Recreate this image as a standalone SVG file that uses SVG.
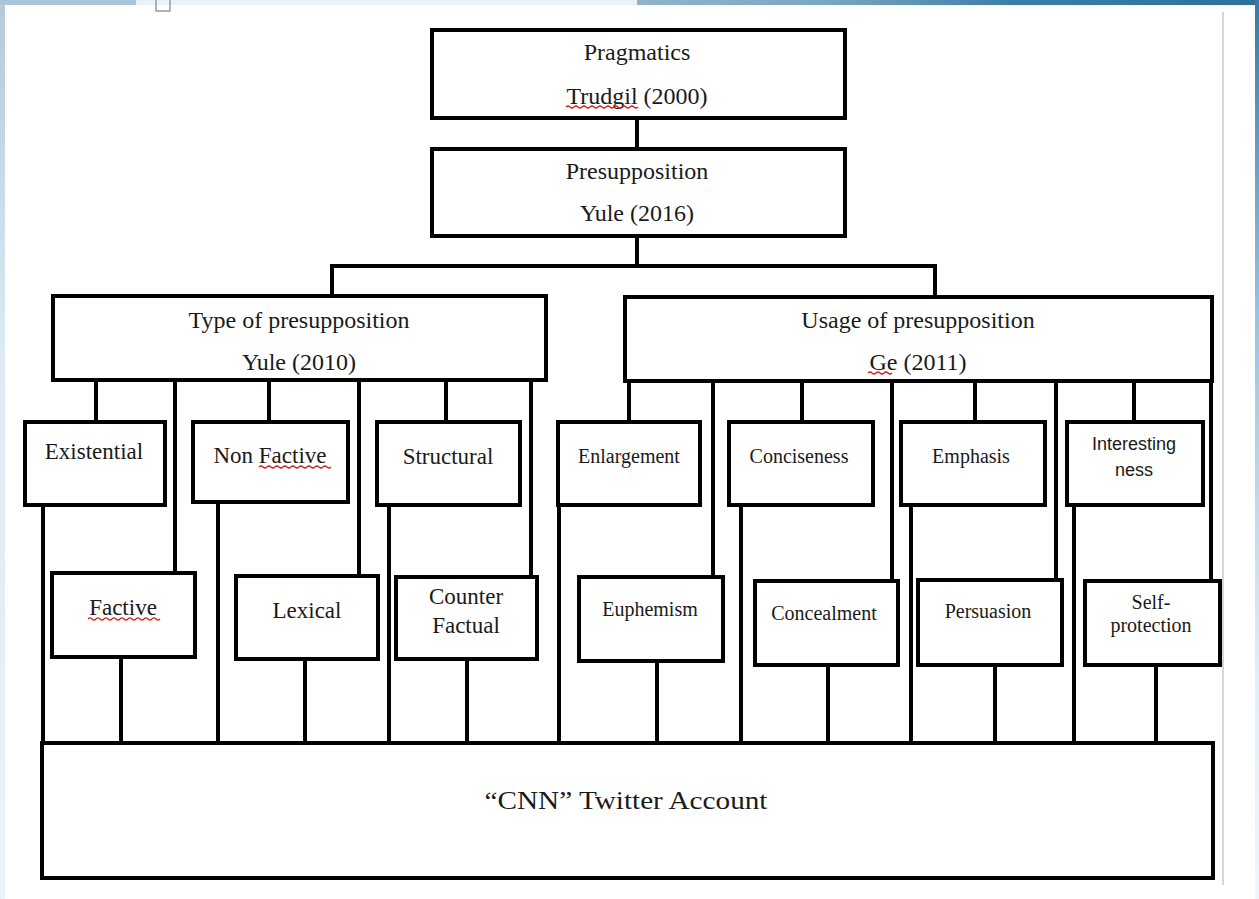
<svg xmlns="http://www.w3.org/2000/svg" width="1259" height="899" viewBox="0 0 1259 899">
<defs>
<linearGradient id="topR" x1="0" y1="0" x2="1" y2="0"><stop offset="0" stop-color="#8fb4cc"/><stop offset="0.3" stop-color="#7aa7c3"/><stop offset="0.6" stop-color="#3e7ea6"/><stop offset="1" stop-color="#2f6f98"/></linearGradient>
<linearGradient id="rightS" x1="0" y1="0" x2="0" y2="1"><stop offset="0" stop-color="#3a7aa2"/><stop offset="0.35" stop-color="#9cc2dc"/><stop offset="0.75" stop-color="#e0eef8"/><stop offset="1" stop-color="#eef6fc"/></linearGradient>
<linearGradient id="leftS" x1="0" y1="0" x2="0" y2="1"><stop offset="0" stop-color="#b3cadb"/><stop offset="0.4" stop-color="#dcebf6"/><stop offset="1" stop-color="#e9f4fc"/></linearGradient>
</defs>
<style>
.box{fill:#ffffff;stroke:#000000;stroke-width:4}
.ln{stroke:#000000;stroke-width:4;fill:none}
.t{font-family:"Liberation Serif","Times New Roman",serif;fill:#1a1a1a;text-anchor:middle}
.h{font-size:24px}
.s{font-size:20px}
.m{font-size:23px}
.ss{font-family:"Liberation Sans",Arial,sans-serif;font-size:18px;fill:#1a1a1a;text-anchor:middle}
.spell{stroke:#d02020;stroke-width:1.2;fill:none}
</style>
<rect x="0" y="0" width="1259" height="899" fill="#e9f4fc"/>
<rect x="0" y="0" width="6" height="899" fill="url(#leftS)"/>
<rect x="0" y="0" width="136" height="5" fill="#abc5d8"/>
<rect x="136" y="0" width="501" height="5" fill="#e6f3fb"/>
<rect x="637" y="0" width="622" height="5" fill="url(#topR)"/>
<rect x="1255" y="0" width="4" height="899" fill="url(#rightS)"/>
<rect x="5" y="5" width="1250" height="894" fill="#ffffff"/>
<line x1="1223" y1="12" x2="1223" y2="885" stroke="#c8c8c8" stroke-width="1.5"/>
<rect x="156" y="-2" width="14" height="13" fill="none" stroke="#999999" stroke-width="1.5"/>

<g id="connectors">
<path class="ln" d="M637 118V149M637 236V266M330 266H937M332 266V296M935 266V297"/>
<path class="ln" d="M96 380V422M175 380V573M269 380V422M359 380V576M446 380V422M531 380V577"/>
<path class="ln" d="M629 381V422M713 381V577M802 381V422M892 381V581M975 381V422M1056 381V580M1134 381V422M1211 381V581"/>
<path class="ln" d="M43 505V743M218 502V743M389 505V743M559 505V743M741 505V743M911 505V743M1074 505V743"/>
<path class="ln" d="M121 657V743M305 659V743M467 659V743M657 661V743M828 665V743M995 665V743M1156 665V743"/>
</g>

<g id="pragmatics">
<rect class="box" x="432" y="30" width="413" height="88"/>
<text class="t h" x="637" y="60">Pragmatics</text>
<text class="t h" x="637" y="104">Trudgil (2000)</text>
<path class="spell" d="M566 107q2-2 4 0t4 0t4 0t4 0t4 0t4 0t4 0t4 0t4 0t4 0t4 0t4 0t4 0t4 0t4 0t4 0t4 0t4 0"/>
</g>
<g id="presupposition">
<rect class="box" x="432" y="149" width="413" height="87"/>
<text class="t h" x="637" y="179">Presupposition</text>
<text class="t h" x="637" y="221">Yule (2016)</text>
</g>
<g id="type">
<rect class="box" x="53" y="296" width="493" height="84"/>
<text class="t h" x="299" y="328">Type of presupposition</text>
<text class="t h" x="299" y="370">Yule (2010)</text>
</g>
<g id="usage">
<rect class="box" x="625" y="297" width="587" height="84"/>
<text class="t h" x="918" y="328">Usage of presupposition</text>
<text class="t h" x="918" y="370">Ge (2011)</text>
<path class="spell" d="M868 373q2-2 4 0t4 0t4 0t4 0t4 0t4 0"/>
</g>

<g id="existential"><rect class="box" x="25" y="422" width="140" height="83"/><text class="t m" x="94" y="459">Existential</text></g>
<g id="nonfactive"><rect class="box" x="193" y="422" width="155" height="80"/><text class="t m" x="270" y="463">Non Factive</text>
<path class="spell" d="M259 467q2-2 4 0t4 0t4 0t4 0t4 0t4 0t4 0t4 0t4 0t4 0t4 0t4 0t4 0t4 0t4 0t4 0t4 0t4 0"/></g>
<g id="structural"><rect class="box" x="377" y="422" width="143" height="83"/><text class="t m" x="448" y="464">Structural</text></g>
<g id="enlargement"><rect class="box" x="558" y="422" width="142" height="83"/><text class="t s" x="629" y="463">Enlargement</text></g>
<g id="conciseness"><rect class="box" x="729" y="422" width="144" height="83"/><text class="t s" x="799" y="463">Conciseness</text></g>
<g id="emphasis"><rect class="box" x="901" y="422" width="144" height="83"/><text class="t s" x="971" y="463">Emphasis</text></g>
<g id="interestingness"><rect class="box" x="1067" y="422" width="136" height="83"/><text class="ss" x="1134" y="450">Interesting</text><text class="ss" x="1134" y="476">ness</text></g>

<g id="factive"><rect class="box" x="52" y="573" width="143" height="84"/><text class="t m" x="123" y="615">Factive</text>
<path class="spell" d="M88 619q2-2 4 0t4 0t4 0t4 0t4 0t4 0t4 0t4 0t4 0t4 0t4 0t4 0t4 0t4 0t4 0t4 0t4 0t4 0"/></g>
<g id="lexical"><rect class="box" x="236" y="576" width="142" height="83"/><text class="t m" x="307" y="618">Lexical</text></g>
<g id="counterfactual"><rect class="box" x="396" y="577" width="141" height="82"/><text class="t m" x="466" y="604">Counter</text><text class="t m" x="466" y="633">Factual</text></g>
<g id="euphemism"><rect class="box" x="579" y="577" width="144" height="84"/><text class="t s" x="650" y="616">Euphemism</text></g>
<g id="concealment"><rect class="box" x="755" y="581" width="143" height="84"/><text class="t s" x="824" y="620">Concealment</text></g>
<g id="persuasion"><rect class="box" x="918" y="580" width="144" height="85"/><text class="t s" x="988" y="618">Persuasion</text></g>
<g id="selfprotection"><rect class="box" x="1085" y="581" width="135" height="84"/><text class="t s" x="1151" y="609">Self-</text><text class="t s" x="1151" y="632">protection</text></g>

<g id="cnn"><rect class="box" x="42" y="743" width="1171" height="135"/><text class="t" x="626" y="809" font-size="25" textLength="283" lengthAdjust="spacingAndGlyphs">“CNN” Twitter Account</text></g>
</svg>
